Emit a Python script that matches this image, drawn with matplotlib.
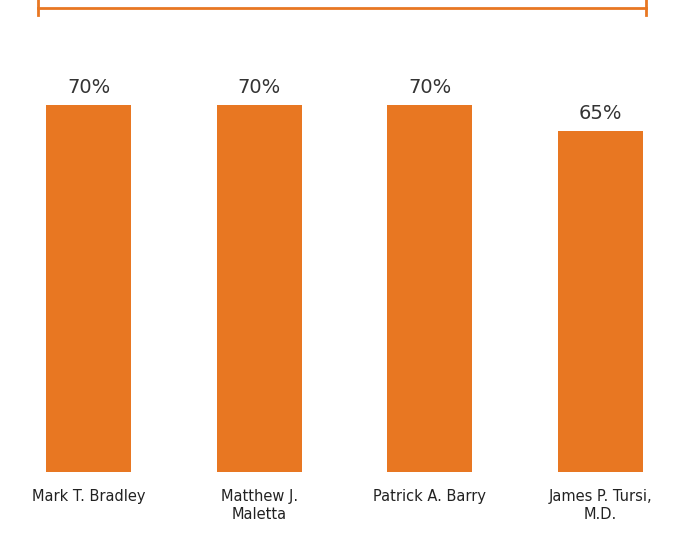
import matplotlib
matplotlib.use("Agg")
import matplotlib.pyplot as plt
from matplotlib.lines import Line2D

names = ["Mark T. Bradley", "Matthew J.\nMaletta", "Patrick A. Barry", "James P. Tursi,\nM.D."]
values = [70, 70, 70, 65]
color = "#E87722"

fig = plt.figure(figsize=(6.89, 5.35), dpi=100)
ax = fig.add_axes([0, 0, 1, 1])
x = list(range(len(values)))
ax.bar(x, values, width=0.498, color=color)
ax.set_xlim(-0.5186, 3.5186)
ax.set_ylim(-12.02, 90.02)
ax.axis("off")
for xi, v in zip(x, values):
    ax.text(xi, v + 1.5, f"{v}%", ha="center", va="bottom", fontsize=14, color="#333333")
for xi, n in zip(x, names):
    ax.text(xi, -3.2, n, ha="center", va="top", fontsize=10.5, color="#222222", linespacing=1.3)

W, H = 689, 535
def fx(p): return p / W
def fy(p): return 1 - p / H
fig.add_artist(Line2D([fx(38), fx(646)], [fy(8), fy(8)], color=color, lw=2))
fig.add_artist(Line2D([fx(38), fx(38)], [fy(0), fy(15)], color=color, lw=2))
fig.add_artist(Line2D([fx(646), fx(646)], [fy(0), fy(15)], color=color, lw=2))
fig.savefig("out.png", dpi=100)
